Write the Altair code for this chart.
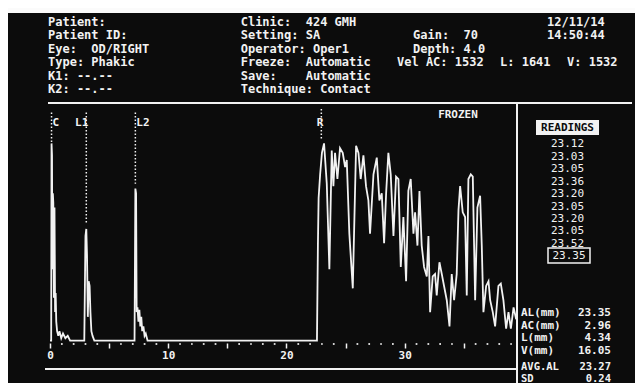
import altair as alt
import pandas as pd

# ---------------- data ----------------
# echo trace: depth (mm) and amplitude (% of screen height)
depth_mm = [
    0.00, 0.10, 0.13, 0.17, 0.20, 0.24, 0.28, 0.33, 0.38, 0.43, 0.48, 0.53, 0.60, 0.70, 0.80,
    0.95, 1.10, 1.30, 1.50, 1.70,
    2.90, 3.00, 3.07, 3.13, 3.20, 3.27, 3.35, 3.42, 3.50, 3.60, 3.75,
    7.15, 7.22, 7.28, 7.33, 7.40, 7.48, 7.56, 7.64, 7.72, 7.80, 7.90, 8.00, 8.10, 8.25,
    22.58, 22.66, 22.72, 22.85, 23.00, 23.18, 23.41, 23.63, 23.83, 23.97, 24.11, 24.31, 24.53,
    24.76, 24.96, 25.10, 25.32, 25.61, 25.89, 26.09, 26.28, 26.51, 26.73, 26.93, 27.07, 27.36,
    27.64, 27.86, 28.06, 28.26, 28.43, 28.62, 28.82, 29.05, 29.27, 29.47, 29.67, 29.89, 30.12,
    30.31, 30.51, 30.74, 30.88, 31.08, 31.25, 31.44, 31.64, 31.87, 32.01, 32.15, 32.37, 32.57,
    32.71, 32.94, 33.14, 33.33, 33.56, 33.79, 33.98, 34.18, 34.40, 34.55, 34.69, 34.91, 35.11,
    35.25, 35.39, 35.59, 35.76, 35.96, 36.15, 36.38, 36.52, 36.66, 36.89, 37.09, 37.23, 37.45,
    37.65, 37.93, 38.13, 38.35, 38.58, 38.78, 38.98, 39.21, 39.43,
]
amplitude = [
    0, 0, 83, 78, 30, 62, 58, 18, 56, 12, 20, 8, 4, 2, 4,
    1, 3, 1, 2, 0,
    0, 44, 47, 36, 10, 25, 23, 12, 4, 2, 0,
    0, 64, 62, 12, 14, 8, 13, 6, 10, 4, 6, 2, 3, 0,
    0, 40, 60, 70, 79, 83, 66, 30, 80, 65, 79, 68, 81,
    79, 73, 76, 45, 22, 82, 79, 68, 78, 65, 59, 45, 70,
    77, 59, 62, 41, 62, 79, 70, 44, 69, 68, 31, 52, 25,
    63, 68, 45, 54, 40, 63, 40, 31, 27, 44, 12, 27, 28,
    19, 33, 28, 23, 17, 6, 28, 17, 28, 55, 65, 54, 52,
    19, 68, 70, 69, 17, 56, 61, 40, 12, 23, 25, 17, 12,
    6, 23, 24, 17, 5, 12, 5, 14, 9,
]

# gates / markers
marker_names = ["C", "L1", "L2", "R"]
marker_mm = [0.13, 3.07, 7.22, 22.95]
marker_top = [96, 96, 96, 97.5]
marker_end = [83, 49, 66, 85]

# depth axis
major_ticks = [0, 5, 10, 15, 20, 25, 30, 35]
minor_dots = [1, 2, 3, 4, 6, 7, 8, 9, 11, 12, 13, 14, 16, 17, 18, 19, 21, 22, 23, 24,
              26, 27, 28, 29, 31, 32, 33, 34, 36, 37, 38, 39]

# header text
header_col1 = ["Patient:", "Patient ID:", "Eye:  OD/RIGHT", "Type: Phakic", "K1: --.--", "K2: --.--"]
header_col2 = ["Clinic:  424 GMH", "Setting: SA", "Operator: Oper1", "Freeze:  Automatic",
               "Save:    Automatic", "Technique: Contact"]
header_col3 = ["Gain:  70", "Depth: 4.0"]
header_date = ["12/11/14", "14:50:44"]
velocity = ["Vel AC: 1532", "L: 1641", "V: 1532"]
status = "FROZEN"

# readings
readings = ["23.12", "23.03", "23.05", "23.36", "23.20", "23.05", "23.20", "23.05", "23.52", "23.35"]
current_reading = 9
result_labels = ["AL(mm)", "AC(mm)", "L(mm)", "V(mm)"]
result_values = ["23.35", "2.96", "4.34", "16.05"]
summary_labels = ["AVG.AL", "SD"]
summary_values = ["23.27", "0.24"]

# ---------------- chart ----------------
FG = "#f2f2f2"
BG = "#0c0c0c"
FONT = "DejaVu Sans Mono"
W, H = 467, 240


def nb(s):
    return s.replace(" ", "\u00a0")


one = pd.DataFrame({"k": [0]})
xscale = alt.Scale(domain=[0, 39.5], nice=False, zero=False)
yscale = alt.Scale(domain=[-1, 100], nice=False, zero=False)
xaxis = alt.Axis(values=major_ticks, labelExpr="datum.value % 10 === 0 ? datum.label : ''",
                 domain=False, grid=False, tickColor=FG, tickSize=5, tickWidth=1.5,
                 labelColor=FG, labelFont=FONT, labelFontSize=11, labelFontWeight="bold",
                 labelPadding=1, title=None, labelFlush=False, labelOverlap=False)


def X(field):
    return alt.X(field, type="quantitative", scale=xscale, axis=xaxis)


def Y(field):
    return alt.Y(field, type="quantitative", scale=yscale, axis=None)


def txt(text, x, y, align="left", baseline="top", size=12, weight="bold", color=FG, lh=None):
    props = dict(align=align, baseline=baseline, font=FONT, fontSize=size,
                 fontWeight=weight, color=color)
    if lh:
        props["lineHeight"] = lh
    if isinstance(text, list):
        text = [nb(t) for t in text]
    else:
        text = nb(text)
    return alt.Chart(one).mark_text(**props).encode(
        x=alt.value(x), y=alt.value(y), text=alt.value(text))


def hline(x1, x2, y, w=2):
    return alt.Chart(one).mark_rule(color=FG, strokeWidth=w).encode(
        x=alt.value(x1), x2=alt.value(x2), y=alt.value(y))


def vline(x, y1, y2, w=2):
    return alt.Chart(one).mark_rule(color=FG, strokeWidth=w).encode(
        x=alt.value(x), y=alt.value(y1), y2=alt.value(y2))


wave_df = pd.DataFrame({"mm": depth_mm, "amp": amplitude, "i": range(len(depth_mm))})
marker_df = pd.DataFrame({"name": marker_names, "mm": marker_mm, "top": marker_top, "end": marker_end})
dots_df = pd.DataFrame({"t": minor_dots})

wave = alt.Chart(wave_df).mark_line(color=FG, strokeWidth=1.8, strokeJoin="miter").encode(
    x=X("mm"), y=Y("amp"), order="i:Q")

gates = alt.Chart(marker_df).mark_rule(color=FG, strokeWidth=1.5, strokeDash=[1.5, 2]).encode(
    x=X("mm"), y=Y("top"), y2="end")

gate_lab_r = alt.Chart(marker_df).transform_filter(
    alt.FieldOneOfPredicate(field="name", oneOf=["C", "L2"])
).mark_text(align="left", baseline="middle", font=FONT, fontSize=11, fontWeight="bold",
            color=FG, dx=1).encode(x=X("mm"), y=alt.value(20), text="name:N")

gate_lab_l = alt.Chart(marker_df).transform_filter(
    alt.FieldOneOfPredicate(field="name", oneOf=["L1", "R"])
).mark_text(align="right", baseline="middle", font=FONT, fontSize=11, fontWeight="bold",
            color=FG, dx=2).encode(x=X("mm"), y=alt.value(20), text="name:N")

dots = alt.Chart(dots_df).mark_square(size=3, color=FG, opacity=1).encode(
    x=X("t"), y=alt.value(241))

top_band = alt.Chart(one).mark_rect(color="#fbfbfb").encode(
    x=alt.value(-42), x2=alt.value(600), y=alt.value(-96), y2=alt.value(-90))

readings_box = alt.Chart(one).mark_rect(color=FG).encode(
    x=alt.value(486), x2=alt.value(549), y=alt.value(17), y2=alt.value(32))
current_box = alt.Chart(one).mark_rect(fill=BG, stroke=FG, strokeWidth=1.5).encode(
    x=alt.value(498), x2=alt.value(540), y=alt.value(145), y2=alt.value(160))

layers = [
    top_band,
    hline(-2, 582, 0, 2),
    vline(467, 0, 290, 2),
    hline(-5, 467, 266, 2),
    txt(header_col1, -2, -86, lh=13.4),
    txt(header_col2, 190.7, -86, lh=13.4),
    txt(header_col3, 363, -72.6, lh=13.4),
    txt(header_date, 497, -86, lh=13.4),
    txt(velocity[0], 347, -46),
    txt(velocity[1], 450, -46),
    txt(velocity[2], 517, -46),
    txt(status, 408, 12, align="center", baseline="middle", size=11),
    readings_box,
    txt("READINGS", 517.5, 24.5, align="center", baseline="middle", size=11, color=BG),
    txt(readings[:current_reading], 517.5, 35.2, align="center", size=11, weight="normal", lh=12.47),
    current_box,
    txt(readings[current_reading], 519, 152.5, align="center", baseline="middle", size=11, weight="normal"),
    txt(result_labels, 471, 204.2, size=11, lh=12.45),
    txt(result_values, 561, 204.2, align="right", size=11, lh=12.45),
    txt(summary_labels, 471, 258.5, size=10.5, lh=12),
    txt(summary_values, 561, 258.5, align="right", size=10.5, lh=12),
    dots,
    gates,
    gate_lab_r,
    gate_lab_l,
    wave,
]

chart = alt.layer(*layers).properties(
    width=W, height=H,
    background=BG,
    padding={"left": 42, "top": 95, "right": 118, "bottom": 40},
    autosize=alt.AutoSizeParams(type="none"),
).configure_view(stroke=None)

chart.save("out.html", embed_options={"renderer": "svg", "actions": False})
